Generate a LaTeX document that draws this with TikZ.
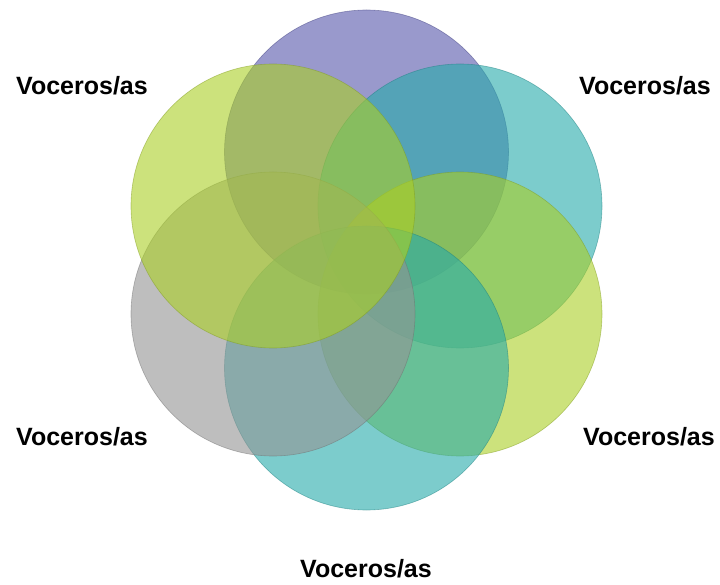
\documentclass[tikz,border=0pt]{standalone}
\usepackage{fontspec}
\setmainfont{Liberation Sans}
\usepackage{xcolor}
\definecolor{cPurple}{RGB}{85,85,170}
\definecolor{cTeal}{RGB}{38,170,170}
\definecolor{cLime}{RGB}{170,207,37}
\definecolor{cGray}{RGB}{148,148,148}
\usepackage{tikz}
\usetikzlibrary{positioning}
\tikzset{
  node-ring/.style={circle,inner sep=0pt,minimum size=284pt,
    fill=#1,fill opacity=0.6,draw=#1!75!black,draw opacity=0.5,line width=0.6pt},
  node-label/.style={font=\bfseries\fontsize{25}{28}\selectfont,text=black},
}
\begin{document}
\begin{tikzpicture}[x=1pt,y=-1pt]
  \useasboundingbox[fill=white] (0,0) rectangle (720,585);
  \coordinate (mid) at (366.5,260);
  % circles, bottom layer first
  \node[node-ring=cPurple] (top)  at (366.5,152) {};
  \node[node-ring=cTeal]   (ur)   at (460,206)   {};
  \node[node-ring=cLime]   (lr)   at (460,314)   {};
  \node[node-ring=cTeal]   (bot)  at (366.5,368) {};
  \node[node-ring=cGray]   (ll)   at (273,314)   {};
  \node[node-ring=cLime]   (ul)   at (273,206)   {};
  % labels
  \node[node-label] (lab-ul)  at (82,86)   {Voceros/as};
  \node[node-label] (lab-ur)  at (645,86)  {Voceros/as};
  \node[node-label] (lab-ll)  at (82,437)  {Voceros/as};
  \node[node-label] (lab-lr)  at (649,437) {Voceros/as};
  \node[node-label] (lab-bot) at (366,569) {Voceros/as};
\end{tikzpicture}
\end{document}
